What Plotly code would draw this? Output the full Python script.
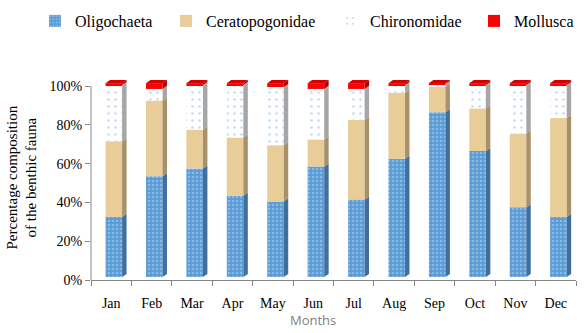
import numpy as np
import plotly.graph_objects as go

months = ["Jan", "Feb", "Mar", "Apr", "May", "Jun", "Jul", "Aug", "Sep", "Oct", "Nov", "Dec"]
oligochaeta = [31, 52, 56, 42, 39, 57, 40, 61, 85, 65, 36, 31]
ceratopogonidae = [39, 39, 20, 30, 29, 14, 41, 34, 13, 22, 38, 51]
chironomidae = [29, 6, 23, 27, 30, 26, 16, 4, 1.5, 12, 25, 17]
mollusca = [1, 3, 1, 1, 2, 3, 3, 1, 0.5, 1, 1, 1]
y_ticks = [0, 20, 40, 60, 80, 100]

series = [
    # name, values, front colour, side colour, pattern, legend id, legend left (px)
    ("Oligochaeta", oligochaeta, "#5B9BD5", "#3F6F9F",
     dict(shape=".", fgcolor="#B8D5F0", size=4, solidity=0.35), "legend", 35),
    ("Ceratopogonidae", ceratopogonidae, "#E8CD99", "#A89068", None, "legend2", 166),
    ("Chironomidae", chironomidae, "#FFFFFF", "#A6A6A6",
     dict(shape=".", fgcolor="#8FB7E3", size=7, solidity=0.12), "legend3", 330),
    ("Mollusca", mollusca, "#FF0000", "#B00000", None, "legend4", 474),
]

# pseudo-3D column geometry (x in category units, y in percent)
front_off, front_w = -0.14, 0.41
depth_dx, depth_dy = 0.11, 1.6
lift = 1.5

L, R, T, B = 91, 11, 75, 53
W, H = 587, 333
plot_w, plot_h = W - L - R, H - T - B

axis_col = "#868686"
serif = "Liberation Serif"

x = np.arange(len(months))
fig = go.Figure()
legends = {}

cum = np.zeros(len(months))
sides = []
for name, vals, col, side_col, pat, leg, leg_px in series:
    vals = np.array(vals, dtype=float)
    base = cum + lift
    marker = dict(color=col, line=dict(width=0))
    if pat:
        marker["pattern"] = pat
    fig.add_trace(go.Bar(
        x=x, y=vals, base=base, name=name, offset=front_off, width=front_w,
        marker=marker, cliponaxis=False, hoverinfo="skip", legend=leg,
    ))
    legends[leg] = dict(
        orientation="h", x=(leg_px - L) / plot_w, xanchor="left",
        y=(plot_h + T - 21) / plot_h, yanchor="middle",
        font=dict(family="Times New Roman", size=16, color="#000000"),
        bgcolor="rgba(0,0,0,0)",
    )
    # side faces
    px, py = [], []
    x0 = x + front_off + front_w
    for i in range(len(months)):
        b, t = base[i], base[i] + vals[i]
        px += [x0[i], x0[i] + depth_dx, x0[i] + depth_dx, x0[i], x0[i], None]
        py += [b, b + depth_dy, t + depth_dy, t, b, None]
    sides.append((px, py, side_col))
    cum = cum + vals

for px, py, side_col in sides:
    fig.add_trace(go.Scatter(
        x=px, y=py, mode="lines", fill="toself", fillcolor=side_col,
        line=dict(width=0), showlegend=False, hoverinfo="skip",
    ))

# top faces
tx, ty = [], []
top = cum + lift
for i in range(len(months)):
    l = x[i] + front_off
    r = l + front_w
    tx += [l, r, r + depth_dx, l + depth_dx, l, None]
    ty += [top[i], top[i], top[i] + depth_dy, top[i] + depth_dy, top[i], None]
fig.add_trace(go.Scatter(
    x=tx, y=ty, mode="lines", fill="toself", fillcolor="#D40000",
    line=dict(width=0), showlegend=False, hoverinfo="skip",
))

fig.update_layout(
    width=W, height=H,
    margin=dict(l=L, r=R, t=T, b=B, autoexpand=False),
    paper_bgcolor="white", plot_bgcolor="white",
    barmode="overlay",
    font=dict(family=serif, size=14, color="#000000"),
    showlegend=True,
    xaxis=dict(
        range=[-0.5, len(months) - 0.5], tickvals=x, ticktext=months,
        ticks="", showgrid=False, zeroline=False,
        showline=True, linecolor=axis_col, linewidth=1,
        ticklabelstandoff=10,
        tickfont=dict(family=serif, size=14),
        minor=dict(tick0=-0.5, dtick=1, ticks="outside", ticklen=5,
                   tickcolor=axis_col, showgrid=False),
    ),
    yaxis=dict(
        range=[0, 105.7], tickvals=y_ticks, ticktext=[f"{v}%" for v in y_ticks],
        ticks="outside", ticklen=5, tickcolor=axis_col,
        showgrid=False, zeroline=False, showline=False,
        tickfont=dict(family=serif, size=14),
    ),
    shapes=[dict(type="line", xref="paper", yref="y", x0=0, x1=0, y0=0, y1=100,
                 line=dict(color=axis_col, width=1))],
    annotations=[
        dict(text="Percentage composition<br>of the benthic fauna",
             xref="paper", yref="paper", x=(21 - L) / plot_w, y=0.50,
             xanchor="center", yanchor="middle", textangle=-90, showarrow=False,
             font=dict(family=serif, size=15, color="#000000")),
        dict(text="Months", xref="paper", yref="paper",
             x=(313 - L) / plot_w, y=(H - B - 320) / plot_h,
             xanchor="center", yanchor="middle", showarrow=False,
             font=dict(family="Open Sans", size=13, color="#7F7F7F")),
    ],
    **legends,
)

fig.write_html("out.html")
